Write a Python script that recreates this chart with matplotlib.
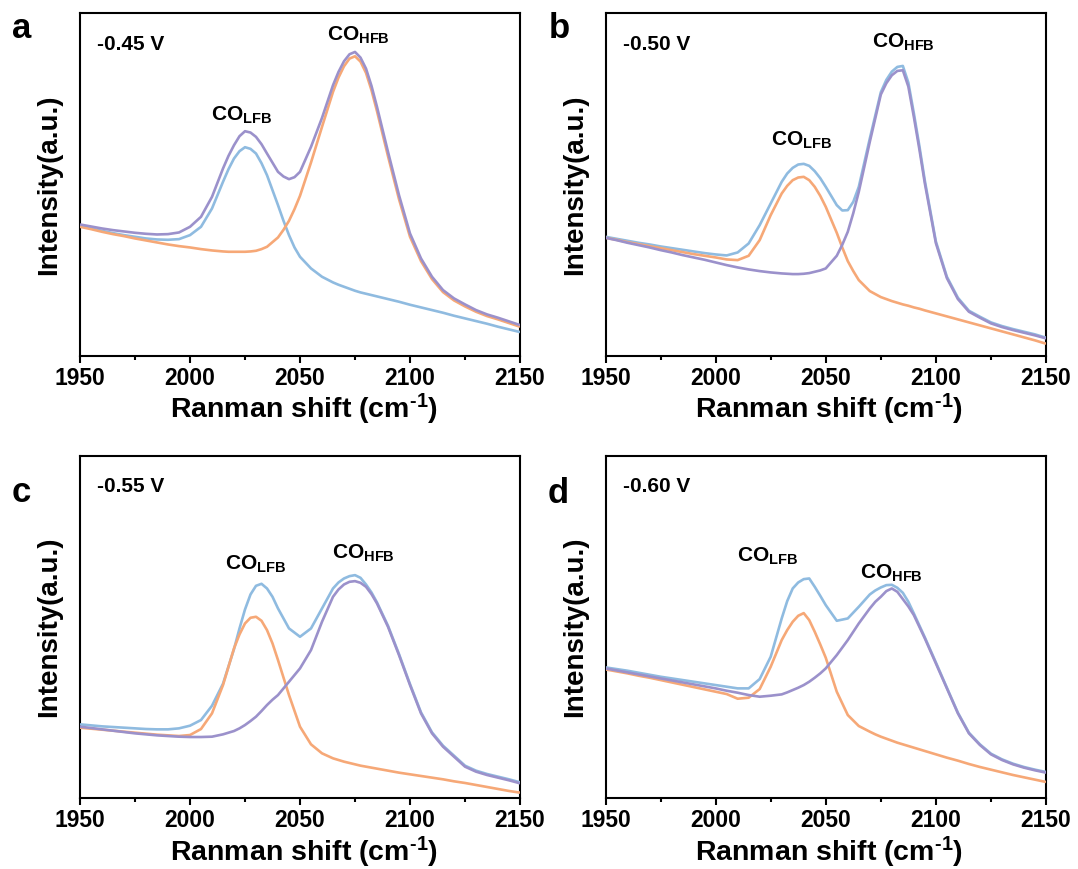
import matplotlib
matplotlib.use('Agg')
import matplotlib.pyplot as plt
from matplotlib.ticker import MultipleLocator

plt.rcParams['font.family'] = ['Liberation Sans', 'DejaVu Sans']
plt.rcParams['font.weight'] = 'bold'
plt.rcParams['mathtext.fontset'] = 'custom'
plt.rcParams['mathtext.rm'] = 'Liberation Sans:bold'
plt.rcParams['mathtext.bf'] = 'Liberation Sans:bold'
plt.rcParams['mathtext.it'] = 'Liberation Sans:bold'

# ---------------- data (intensity in arbitrary units) ----------------
WAVENUMBER = list(range(1950, 2155, 5))  # 1950 ... 2150 cm-1, 5 cm-1 readings

A_BLUE = [390, 382, 375, 368, 362, 357, 352, 349, 348, 350, 362, 387, 442, 522, 592, 626, 607, 542, 452, 362, 297,
          262, 237, 220, 207, 195, 186, 178, 170, 162, 153, 145, 137, 129, 120, 112, 104, 96, 87, 79, 71]
A_ORANGE = [387, 380, 372, 365, 359, 352, 346, 340, 334, 329, 325, 320, 316, 313, 312, 312, 315, 327, 355, 405, 480,
            580, 687, 792, 869, 899, 849, 734, 599, 470, 357, 284, 230, 191, 166, 148, 132, 119, 109, 98, 87]
A_PURPLE = [394, 388, 382, 377, 373, 369, 366, 364, 365, 370, 387, 417, 477, 562, 632, 674, 657, 607, 552, 530, 552,
            627, 714, 812, 884, 912, 862, 747, 612, 482, 367, 292, 237, 197, 172, 154, 137, 124, 114, 103, 92]
# extra readings taken half-way between grid points around the peaks
A_X_EXTRA = [2017.5, 2022.5, 2027.5, 2032.5, 2042.5, 2047.5, 2067.5, 2072.5, 2077.5, 2082.5]
A_BLUE_EXTRA = [560, 614, 621, 578, 405, 325, 213, 201, 190, 182]
A_ORANGE_EXTRA = [312, 312, 313, 320, 378, 440, 835, 892, 883, 797]
A_PURPLE_EXTRA = [600, 659, 670, 635, 538, 536, 852, 905, 895, 810]

B_BLUE = [357, 351, 345, 339, 334, 328, 323, 318, 313, 308, 304, 301, 310, 337, 392, 457, 522, 564, 576, 554, 507,
          452, 437, 507, 652, 791, 853, 870, 728, 525, 343, 237, 174, 135, 117, 100, 89, 80, 72, 64, 54]
B_ORANGE = [354, 348, 341, 335, 329, 323, 317, 311, 305, 300, 295, 289, 287, 300, 347, 422, 487, 527, 537, 507, 447,
            369, 284, 227, 194, 176, 164, 154, 145, 136, 127, 118, 109, 100, 91, 82, 73, 64, 55, 46, 36]
B_PURPLE = [354, 347, 339, 332, 325, 317, 310, 302, 295, 288, 280, 272, 265, 259, 254, 250, 247, 245, 246, 252, 262,
            300, 372, 492, 642, 784, 842, 857, 717, 517, 338, 233, 170, 132, 114, 97, 86, 77, 69, 61, 52]
B_X_EXTRA = [2032.5, 2037.5, 2042.5, 2047.5, 2057.5, 2062.5, 2077.5, 2082.5, 2087.5, 2092.5]
B_BLUE_EXTRA = [547, 574, 570, 533, 436, 462, 828, 867, 820, 630]
B_ORANGE_EXTRA = [510, 535, 527, 480, 325, 254, 170, 159, 150, 141]
B_PURPLE_EXTRA = [246, 245, 248, 256, 333, 428, 818, 855, 808, 620]

C_BLUE = [222, 219, 216, 214, 212, 210, 208, 207, 207, 210, 218, 235, 278, 344, 448, 567, 638, 630, 570, 510, 485,
          510, 570, 630, 660, 670, 642, 588, 518, 433, 343, 258, 198, 158, 128, 98, 83, 73, 65, 57, 48]
C_ORANGE = [212, 209, 206, 203, 200, 197, 194, 191, 189, 187, 190, 208, 255, 340, 450, 525, 545, 505, 415, 310, 215,
            162, 135, 120, 110, 102, 95, 89, 83, 77, 72, 67, 62, 57, 51, 46, 40, 34, 28, 22, 17]
C_PURPLE = [215, 211, 207, 203, 199, 195, 192, 189, 187, 185, 184, 184, 185, 192, 202, 220, 245, 280, 310, 350, 390,
            445, 530, 605, 642, 652, 635, 585, 515, 430, 340, 255, 195, 155, 125, 95, 80, 70, 62, 54, 45]
C_X_EXTRA = [2022.5, 2027.5, 2032.5, 2037.5, 2067.5, 2072.5, 2077.5, 2082.5]
C_BLUE_EXTRA = [510, 612, 644, 605, 648, 667, 662, 618]
C_ORANGE_EXTRA = [492, 542, 533, 465, 115, 106, 98, 92]
C_PURPLE_EXTRA = [210, 232, 262, 296, 627, 650, 647, 613]

D_BLUE = [393, 388, 383, 377, 371, 365, 360, 355, 350, 345, 340, 335, 330, 330, 358, 425, 540, 630, 658, 635, 580,
          533, 540, 575, 612, 633, 641, 617, 555, 483, 408, 332, 257, 197, 162, 134, 117, 104, 94, 86, 79]
D_ORANGE = [387, 381, 375, 368, 362, 355, 348, 341, 334, 327, 320, 313, 299, 302, 328, 395, 475, 530, 556, 500, 422,
            320, 250, 217, 200, 185, 173, 162, 152, 142, 132, 122, 113, 103, 94, 86, 78, 70, 63, 56, 49]
D_PURPLE = [390, 384, 378, 372, 366, 360, 354, 348, 342, 336, 330, 323, 317, 310, 305, 308, 312, 325, 340, 362, 390,
            430, 475, 525, 570, 605, 630, 598, 550, 480, 405, 330, 255, 195, 160, 132, 115, 102, 92, 84, 77]
D_X_EXTRA = [2032.5, 2037.5, 2042.5, 2047.5, 2072.5, 2077.5, 2082.5, 2087.5]
D_BLUE_EXTRA = [592, 648, 660, 608, 624, 640, 632, 590]
D_ORANGE_EXTRA = [505, 548, 535, 462, 192, 179, 167, 157]
D_PURPLE_EXTRA = [318, 332, 350, 375, 590, 622, 620, 576]

PANEL_LETTERS = ['a', 'b', 'c', 'd']
POTENTIALS = ['-0.45 V', '-0.50 V', '-0.55 V', '-0.60 V']
SERIES = [(A_BLUE, A_ORANGE, A_PURPLE), (B_BLUE, B_ORANGE, B_PURPLE),
          (C_BLUE, C_ORANGE, C_PURPLE), (D_BLUE, D_ORANGE, D_PURPLE)]
EXTRAS = [(A_X_EXTRA, A_BLUE_EXTRA, A_ORANGE_EXTRA, A_PURPLE_EXTRA),
          (B_X_EXTRA, B_BLUE_EXTRA, B_ORANGE_EXTRA, B_PURPLE_EXTRA),
          (C_X_EXTRA, C_BLUE_EXTRA, C_ORANGE_EXTRA, C_PURPLE_EXTRA),
          (D_X_EXTRA, D_BLUE_EXTRA, D_ORANGE_EXTRA, D_PURPLE_EXTRA)]
# peak label anchor (wavenumber, intensity) for LFB and HFB
LFB_POS = [(2023.6, 722), (2039.1, 647), (2029.7, 702), (2023.6, 727)]
HFB_POS = [(2076.6, 963), (2085.3, 940), (2078.8, 736), (2079.8, 675)]
X_TICKS = [1950, 2000, 2050, 2100, 2150]


def merged(xs, ys, xe, ye):
    pts = sorted(list(zip(xs, ys)) + list(zip(xe, ye)))
    return [p[0] for p in pts], [p[1] for p in pts]


# ---------------- styling ----------------
BLUE = '#8FBBE0'
ORANGE = '#F6A877'
PURPLE = '#9B91CB'
LW = 1.9

fig = plt.figure(figsize=(10.78, 8.69), dpi=100)
W, H = 1078.0, 869.0
positions = [
    [80 / W, 1 - 355.7 / H, 440 / W, 342.4 / H],
    [605.5 / W, 1 - 355.7 / H, 440.5 / W, 342.4 / H],
    [80 / W, 1 - 798.3 / H, 440 / W, 342.4 / H],
    [605.5 / W, 1 - 798.3 / H, 440.5 / W, 342.4 / H],
]
letter_px = [(12, 37.7), (548.6, 38.3), (12, 501.7), (547.6, 502.7)]

for i in range(4):
    ax = fig.add_axes(positions[i])
    blue, orange, purple = SERIES[i]
    xe, be, oe, pe = EXTRAS[i]
    for ys, ye, col in ((blue, be, BLUE), (orange, oe, ORANGE), (purple, pe, PURPLE)):
        xx, yy = merged(WAVENUMBER, ys, xe, ye)
        ax.plot(xx, yy, color=col, lw=LW, solid_joinstyle='round',
                solid_capstyle='butt', zorder=3)

    ax.set_xlim(1950, 2150)
    ax.set_ylim(0, 1028)
    ax.set_xticks(X_TICKS)
    ax.xaxis.set_minor_locator(MultipleLocator(25))
    ax.set_yticks([])
    ax.tick_params(axis='x', which='major', direction='out', length=5, width=1.5,
                   labelsize=16.5, pad=3, top=False)
    ax.tick_params(axis='x', which='minor', direction='out', length=3, width=1.5, top=False)
    for lab in ax.get_xticklabels():
        lab.set_fontweight('bold')
    for sp in ax.spines.values():
        sp.set_linewidth(1.5)
        sp.set_color('black')

    ax.set_xlabel(r'Ranman shift (cm$^{\text{-1}}$)', fontsize=20.5, fontweight='bold')
    ax.xaxis.set_label_coords(0.508, -0.106)
    ax.set_ylabel('Intensity(a.u.)', fontsize=20, fontweight='bold')
    ax.yaxis.set_label_coords(-0.04, 0.5)

    ax.text(0.039, 0.910, POTENTIALS[i], transform=ax.transAxes, fontsize=15,
            fontweight='bold', ha='left', va='center')
    lx, ly = LFB_POS[i]
    ax.text(lx, ly, r'$\mathbf{CO_{LFB}}$', fontsize=15, ha='center', va='center')
    hx, hy = HFB_POS[i]
    ax.text(hx, hy, r'$\mathbf{CO_{HFB}}$', fontsize=15, ha='center', va='center')

    px, py = letter_px[i]
    fig.text(px / W, 1 - py / H, PANEL_LETTERS[i], fontsize=25, fontweight='bold',
             ha='left', va='baseline')

fig.savefig('out.png', dpi=100)
